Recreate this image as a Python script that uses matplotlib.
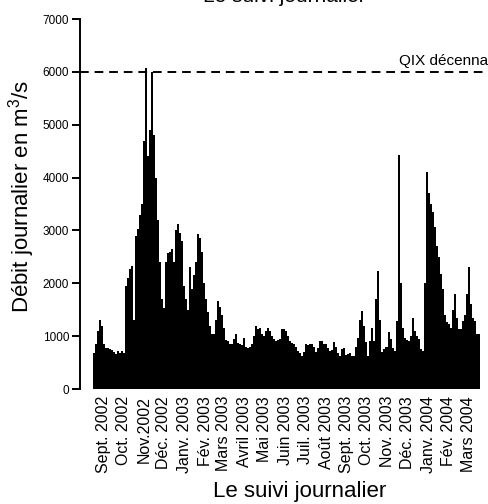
import matplotlib
matplotlib.use("Agg")
import matplotlib.pyplot as plt
import matplotlib.dates as mdates
import numpy as np
import pandas as pd

plt.rcParams['font.family'] = ['Liberation Sans', 'DejaVu Sans']
plt.rcParams['mathtext.fontset'] = 'custom'
plt.rcParams['mathtext.rm'] = 'Liberation Sans'
plt.rcParams['mathtext.it'] = 'Liberation Sans'

# débit journalier (une valeur tous les 3 jours)
debut = "2002-09-01"
pas = 3
debit = [690, 850, 1100, 1300, 1200, 850, 780, 770, 750, 740, 700, 660, 720, 680, 720, 680,
         1950, 2100, 2270, 2330, 1300, 2900, 3030, 3300, 3500, 4700, 6080, 4400, 4900, 6000, 4800, 4000,
         3200, 2400, 1700, 1540, 2400, 2580, 2600, 2650, 2400, 3000, 3130, 2950, 2800, 1950, 1700, 1500,
         2300, 1900, 2150, 2400, 2940, 2850, 2600, 2000, 1700, 1450, 1200, 1050, 1050, 1300, 1670, 1550,
         1400, 1150, 920, 900, 850, 850, 950, 1040, 870, 850, 830, 970, 800, 780, 800, 850,
         1000, 1200, 1140, 1150, 1050, 1000, 1100, 1160, 1100, 1000, 950, 910, 920, 940, 1140, 1140,
         1100, 1000, 910, 870, 850, 800, 720, 680, 630, 700, 850, 830, 850, 850, 800, 700,
         780, 910, 900, 850, 850, 780, 720, 730, 880, 800, 680, 630, 760, 780, 650, 660,
         680, 630, 630, 800, 970, 1300, 1480, 1200, 880, 620, 900, 1160, 900, 1700, 2240, 1300,
         700, 750, 800, 1070, 950, 780, 720, 1290, 4420, 2000, 1150, 970, 920, 910, 1000, 1350,
         1100, 1000, 950, 750, 720, 2000, 4100, 3700, 3500, 3350, 3070, 2700, 2500, 2180, 1900, 1400,
         1260, 1230, 1160, 1500, 1800, 1350, 1130, 1130, 1290, 1400, 1800, 2300, 1600, 1350, 1290, 1050, 1050]

mois = ["Sept. 2002", "Oct. 2002", "Nov.2002", "Déc. 2002", "Janv. 2003", "Fév. 2003",
        "Mars 2003", "Avril 2003", "Mai 2003", "Juin 2003", "Juil. 2003", "Août 2003",
        "Sept. 2003", "Oct. 2003", "Nov. 2003", "Déc. 2003", "Janv. 2004", "Fév. 2004",
        "Mars 2004"]

qix = 6000  # QIX décennal

bords = mdates.date2num(pd.date_range(debut, periods=len(debit) + 1, freq=f"{pas}D"))

fig = plt.figure(figsize=(4.89, 5.04), dpi=100)
ax = fig.add_axes([80/489, 115/504, 409/489, 370/504])

ax.stairs(debit, bords, fill=True, color='black', lw=0)
ax.axhline(qix, color='black', lw=1.4, dashes=(4.5, 3))
ax.text(mdates.date2num(pd.Timestamp("2003-12-03")), qix + 80, "QIX décennal",
        fontsize=11, va='bottom', ha='left')

ax.set_ylim(0, 7000)
ax.set_xlim(bords[0] - 19.5, bords[0] + 593)

# étiquettes au milieu de chaque mois
ticks = mdates.date2num(pd.date_range(debut, periods=len(mois), freq="MS") + pd.Timedelta(days=15))
ax.set_xticks(ticks)
ax.set_xticklabels(mois, rotation=90, fontsize=11.5)
ax.tick_params(axis='x', length=0, pad=5)

ax.set_yticks(np.arange(0, 7001, 1000))
ax.tick_params(axis='y', length=5.8, width=1.4, labelsize=8.5, pad=2)

for s in ['top', 'right', 'bottom']:
    ax.spines[s].set_visible(False)
ax.spines['left'].set_bounds(0, 7000)
ax.spines['left'].set_linewidth(1.4)

ax.set_title("Le suivi journalier", fontsize=15, pad=12)
fig.text(22/489, 1 - 196/504, "Débit journalier en m$^3$/s", rotation=90,
         ha='center', va='center', fontsize=16)
fig.text(300/489, 1 - 492/504, "Le suivi journalier", ha='center', va='center', fontsize=16)

fig.savefig("out.png", dpi=100)
